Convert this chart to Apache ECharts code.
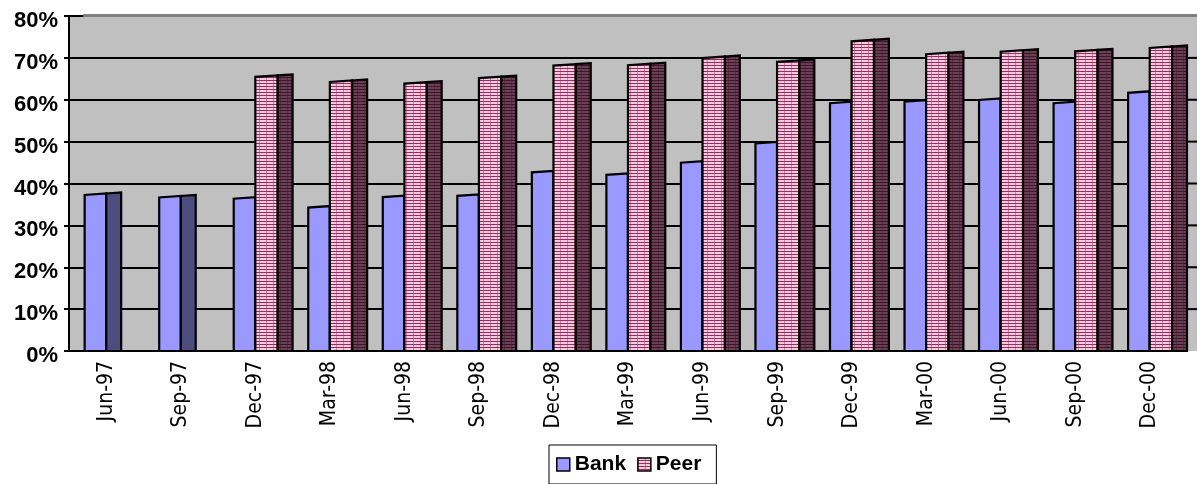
<!DOCTYPE html>
<html>
<head>
<meta charset="utf-8">
<title>Bank vs Peer</title>
<script src="https://cdn.jsdelivr.net/npm/echarts@6/dist/echarts.min.js"></script>
<style>
  html, body { margin: 0; padding: 0; background: #fff; }
  #chart { width: 1197px; height: 484px; }
</style>
</head>
<body>
<div id="chart"></div>
<script>
// Quarter-end labels
const categories = ['Jun-97', 'Sep-97', 'Dec-97', 'Mar-98', 'Jun-98', 'Sep-98', 'Dec-98', 'Mar-99',
  'Jun-99', 'Sep-99', 'Dec-99', 'Mar-00', 'Jun-00', 'Sep-00', 'Dec-00'];
// Ratios per quarter (fractions; shown as percentages)
const bankValues = [0.375, 0.369, 0.366, 0.345, 0.370, 0.373, 0.429, 0.423, 0.452, 0.498, 0.594, 0.598, 0.602, 0.594, 0.619];
const peerValues = [null, null, 0.657, 0.645, 0.641, 0.654, 0.684, 0.685, 0.702, 0.693, 0.742, 0.711, 0.717, 0.718, 0.726];
// Value axis ticks
const yTicks = [0, 0.1, 0.2, 0.3, 0.4, 0.5, 0.6, 0.7, 0.8];

// Striped fill used for the Peer columns
function stripes(base, line, vline, w, h) {
  const c = document.createElement('canvas');
  c.width = w; c.height = h;
  const g = c.getContext('2d');
  g.fillStyle = base; g.fillRect(0, 0, w, h);
  g.fillStyle = vline; g.fillRect(0, 0, 1, h);
  g.fillStyle = line; g.fillRect(0, h - 1, w, 1);
  return c;
}
const peerFront = { image: stripes('#F1CADD', '#982C63', '#C9889F', 7, 3), repeat: 'repeat' };
const peerSide = { image: stripes('#6A4054', '#40142A', '#573045', 7, 3), repeat: 'repeat' };
const bankFront = '#9999FF';
const bankSide = '#4D4D80';

// Column drawn as a front face plus a receding side face; f0..f2 are fractions of the category band
function columnRenderer(frontFill, sideFill, f0, f1, f2) {
  return function (params, api) {
    const v = api.value(1);
    if (v == null || isNaN(v)) return;
    const idx = api.value(0);
    const bw = api.size([1, 0])[0];
    const base = api.coord([idx, 0]);
    const top = api.coord([idx, v]);
    const start = base[0] - bw / 2;
    const x0 = start + f0 * bw, x1 = start + f1 * bw, x2 = start + f2 * bw;
    const yb = base[1], yt = top[1];
    return {
      type: 'group',
      children: [
        { type: 'polygon', shape: { points: [[x0, yb], [x0, yt + 1], [x1, yt - 0.5], [x1, yb]] },
          style: { fill: frontFill, stroke: '#000', lineWidth: 2.2, lineJoin: 'miter' } },
        { type: 'polygon', shape: { points: [[x1, yb], [x1, yt - 0.5], [x2, yt - 1.5], [x2, yb]] },
          style: { fill: sideFill, stroke: '#000', lineWidth: 2.2, lineJoin: 'miter' } }
      ]
    };
  };
}

const chart = echarts.init(document.getElementById('chart'), null, { renderer: 'canvas' });

const option = {
  animation: false,
  backgroundColor: '#fff',
  grid: { left: 69, right: 10, top: 15, bottom: 133, show: true, backgroundColor: '#C0C0C0', borderWidth: 0 },
  legend: {
    left: 549, top: 445,
    padding: [9, 15, 9, 7],
    borderColor: '#000', borderWidth: 1,
    itemWidth: 13, itemHeight: 13, itemGap: 11,
    icon: 'rect',
    textStyle: { fontFamily: 'Liberation Sans, Arial, sans-serif', fontWeight: 'bold', fontSize: 21, color: '#000' },
    data: [
      { name: 'Bank', itemStyle: { color: bankFront, borderColor: '#000', borderWidth: 1.5 } },
      { name: 'Peer', itemStyle: { color: peerFront, borderColor: '#000', borderWidth: 1.5 } }
    ]
  },
  xAxis: {
    type: 'category',
    data: categories,
    axisLine: { lineStyle: { color: '#000', width: 2 } },
    axisTick: { lineStyle: { color: '#000', width: 2 }, length: 6 },
    axisLabel: {
      rotate: 90, margin: 10, color: '#000',
      fontFamily: 'Liberation Sans Narrow, DejaVu Sans Condensed, sans-serif', fontSize: 21
    },
    splitLine: { show: false }
  },
  yAxis: {
    type: 'value',
    min: yTicks[0], max: yTicks[yTicks.length - 1], interval: yTicks[1] - yTicks[0],
    axisLine: { show: true, lineStyle: { color: '#000', width: 2 } },
    axisTick: { show: true, length: 5, lineStyle: { color: '#000', width: 2 } },
    axisLabel: {
      margin: 11, color: '#000', lineHeight: 10,
      fontFamily: 'Liberation Sans, Arial, sans-serif', fontWeight: 'bold', fontSize: 22,
      // empty first line nudges each label slightly below its tick
      formatter: v => '\n' + Math.round(v * 100) + '%'
    },
    splitLine: { lineStyle: { color: '#000', width: 2 } }
  },
  series: [
    {
      name: 'Bank', type: 'custom',
      renderItem: columnRenderer(bankFront, bankSide, 0.21, 0.5, 0.7),
      itemStyle: { color: bankFront },
      encode: { x: 0, y: 1 },
      data: bankValues.map((v, i) => [i, v]),
      z: 3
    },
    {
      name: 'Peer', type: 'custom',
      renderItem: columnRenderer(peerFront, peerSide, 0.5, 0.8, 1.0),
      itemStyle: { color: peerFront },
      encode: { x: 0, y: 1 },
      data: peerValues.map((v, i) => [i, v]),
      z: 4
    }
  ]
};
chart.setOption(option);

// Back wall edges and the strip of wall visible past the last category
const c0 = chart.convertToPixel({ xAxisIndex: 0 }, 0);
const c1 = chart.convertToPixel({ xAxisIndex: 0 }, 1);
const bw = c1 - c0;
const left = c0 - bw / 2;
const right = chart.convertToPixel({ xAxisIndex: 0 }, categories.length - 1) + bw / 2;
const depth = bw * 0.19;
const yTop = chart.convertToPixel({ yAxisIndex: 0 }, yTicks[yTicks.length - 1]);
const yBot = chart.convertToPixel({ yAxisIndex: 0 }, 0);
const W = chart.getWidth();
const extra = [
  { type: 'rect', shape: { x: right, y: yTop, width: W - right, height: yBot - yTop },
    style: { fill: '#C0C0C0' }, z: -1 },
  { type: 'line', shape: { x1: left + depth, y1: yTop, x2: left + depth, y2: yBot },
    style: { stroke: '#8A8A8A', lineWidth: 2 }, z: -1 }
];
yTicks.slice(1, -1).forEach(t => {
  const y = chart.convertToPixel({ yAxisIndex: 0 }, t);
  extra.push({ type: 'line', shape: { x1: right, y1: y, x2: W, y2: y }, style: { stroke: '#000', lineWidth: 2 }, z: 0 });
});
extra.push({ type: 'line', shape: { x1: left + depth, y1: yTop - 0.5, x2: W, y2: yTop - 0.5 },
  style: { stroke: '#808080', lineWidth: 3 }, z: 1 });
chart.setOption({ graphic: { elements: extra } });
</script>
</body>
</html>
